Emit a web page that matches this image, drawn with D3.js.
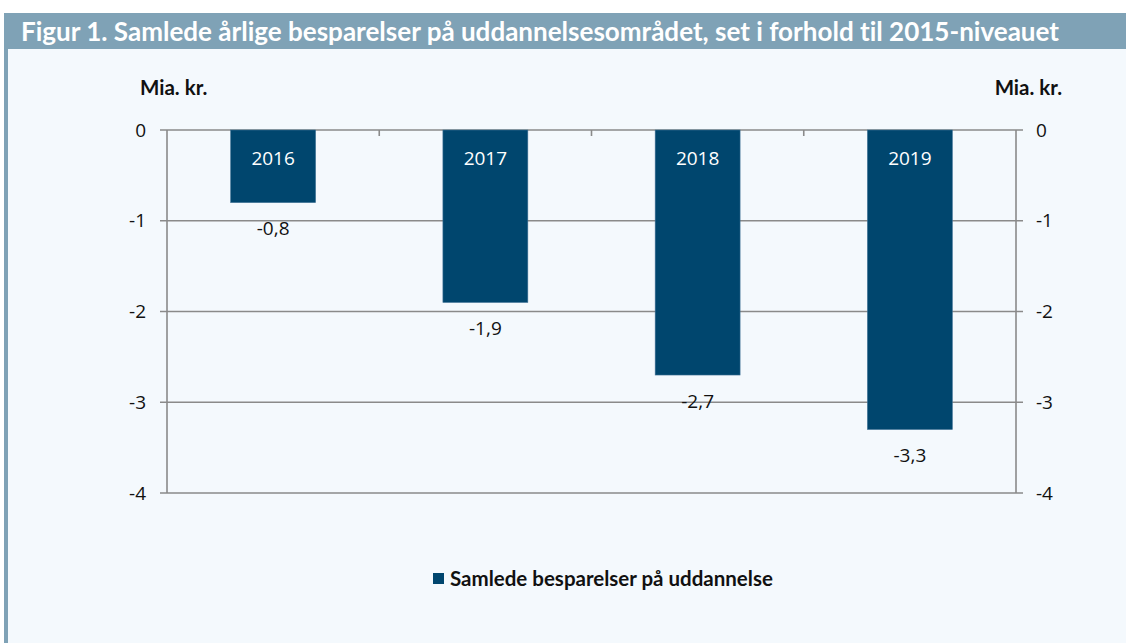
<!DOCTYPE html>
<html>
<head>
<meta charset="utf-8">
<script src="https://cdn.jsdelivr.net/npm/d3@7"></script>
<style>
  html, body { margin: 0; padding: 0; background: #fff; }
  svg { display: block; }
  text { font-variant-ligatures: none; }
  .tick-label { font-family: "Open Sans", "Noto Sans", sans-serif; font-size: 19px; fill: #111; }
</style>
</head>
<body>
<svg id="chart" width="1126" height="643"></svg>
<script>
// data
const years = ["2016", "2017", "2018", "2019"];
const savings = [-0.8, -1.9, -2.7, -3.3];
const yTicks = [0, -1, -2, -3, -4];
const seriesName = "Samlede besparelser på uddannelse";
const title = "Figur 1. Samlede årlige besparelser på uddannelsesområdet, set i forhold til 2015-niveauet";
const unit = "Mia. kr.";

const W = 1126, H = 643;
const barColor = "#00466e";
const gridColor = "#8a8a8a";

const svg = d3.select("#chart");

// panel + title bar
svg.append("rect").attr("x", 4).attr("y", 13).attr("width", W - 4).attr("height", H - 13)
    .attr("fill", "#f4f9fd");
svg.append("rect").attr("x", 4).attr("y", 13).attr("width", W - 4).attr("height", 36)
    .attr("fill", "#7fa2b6");
svg.append("rect").attr("x", 4).attr("y", 13).attr("width", 4).attr("height", H - 13)
    .attr("fill", "#7fa2b6");
svg.append("text")
    .attr("x", 21).attr("y", 41)
    .attr("fill", "#fff")
    .style("font-family", "Lato, sans-serif")
    .style("font-weight", "bold")
    .style("font-size", "26px")
    .attr("textLength", 1038)
    .attr("lengthAdjust", "spacingAndGlyphs")
    .text(title);

// plot area
const plotL = 167, plotR = 1016, plotT = 130, plotB = 493;

const x = d3.scaleBand().domain(years).range([plotL, plotR]).paddingInner(0.6).paddingOuter(0.3);
const y = d3.scaleLinear().domain([-4, 0]).range([plotB, plotT]);
const xEdges = d3.scaleLinear().domain([0, years.length]).range([plotL, plotR]);

// gridlines
svg.append("g").selectAll("line").data(yTicks).join("line")
    .attr("x1", plotL - 7).attr("x2", plotR + 7)
    .attr("y1", d => y(d)).attr("y2", d => y(d))
    .attr("stroke", gridColor).attr("stroke-width", 1.6);

// left/right axis lines
[plotL, plotR].forEach(px => {
    svg.append("line").attr("x1", px).attr("x2", px).attr("y1", plotT).attr("y2", plotB)
        .attr("stroke", gridColor).attr("stroke-width", 1.6);
});

// category ticks on the zero line
svg.append("g").selectAll("line").data(d3.range(1, years.length)).join("line")
    .attr("x1", d => xEdges(d)).attr("x2", d => xEdges(d))
    .attr("y1", plotT).attr("y2", plotT + 6)
    .attr("stroke", gridColor).attr("stroke-width", 1.6);

// y tick labels, both sides
const fmt = d => d.toString();
svg.append("g").selectAll("text").data(yTicks).join("text")
    .attr("class", "tick-label")
    .attr("x", plotL - 21).attr("y", d => y(d)).attr("dy", "0.35em")
    .attr("text-anchor", "end")
    .text(fmt);
svg.append("g").selectAll("text").data(yTicks).join("text")
    .attr("class", "tick-label")
    .attr("x", plotR + 20).attr("y", d => y(d)).attr("dy", "0.35em")
    .attr("text-anchor", "start")
    .text(fmt);

// unit labels
const unitStyle = s => s.style("font-family", "Lato, sans-serif").style("font-weight", "bold")
    .style("font-size", "20.5px").attr("fill", "#111");
svg.append("text").attr("x", 140).attr("y", 95).text(unit).call(unitStyle);
svg.append("text").attr("x", 1062).attr("y", 95).attr("text-anchor", "end").text(unit).call(unitStyle);

// bars
const bars = years.map((yr, i) => ({ year: yr, value: savings[i] }));
svg.append("g").selectAll("rect").data(bars).join("rect")
    .attr("x", d => x(d.year))
    .attr("y", y(0))
    .attr("width", x.bandwidth())
    .attr("height", d => y(d.value) - y(0))
    .attr("fill", barColor)
    .attr("stroke", "#3d7093").attr("stroke-width", 0.6);

// year labels inside bars
svg.append("g").selectAll("text").data(bars).join("text")
    .attr("class", "tick-label")
    .attr("x", d => x(d.year) + x.bandwidth() / 2)
    .attr("y", y(0) + 28)
    .attr("dy", "0.35em")
    .attr("text-anchor", "middle")
    .style("fill", "#fff")
    .text(d => d.year);

// value labels below bars
svg.append("g").selectAll("text").data(bars).join("text")
    .attr("class", "tick-label")
    .attr("x", d => x(d.year) + x.bandwidth() / 2)
    .attr("y", d => y(d.value) + 26)
    .attr("dy", "0.35em")
    .attr("text-anchor", "middle")
    .text(d => d3.format(".1f")(d.value).replace(".", ",").replace("−", "-"));

// legend
svg.append("rect").attr("x", 433).attr("y", 573).attr("width", 11).attr("height", 11).attr("fill", barColor);
svg.append("text").attr("x", 450).attr("y", 579).attr("dy", "0.35em")
    .style("font-family", "Lato, sans-serif").style("font-weight", "bold")
    .style("font-size", "20.5px").attr("fill", "#111")
    .text(seriesName);
</script>
</body>
</html>
